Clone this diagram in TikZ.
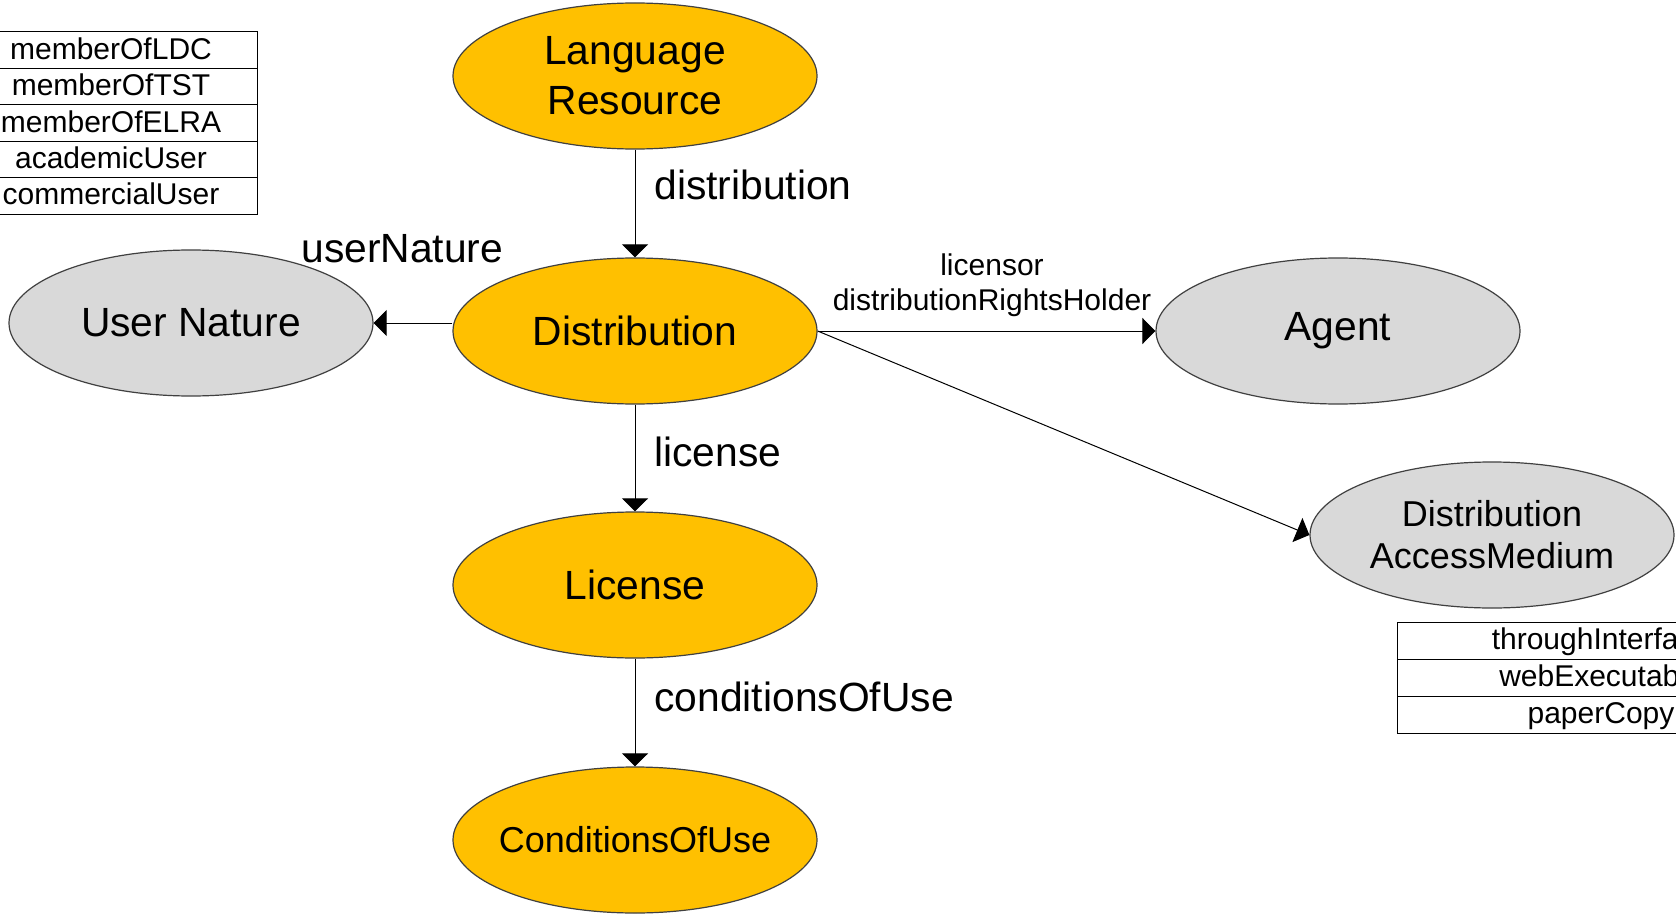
\documentclass[tikz,border=0pt]{standalone}
\usepackage{fontspec}
\setmainfont{Liberation Sans}
\usetikzlibrary{arrows.meta,shapes.geometric}
\definecolor{gold}{HTML}{FFC000}
\definecolor{lgray}{HTML}{D9D9D9}
\begin{document}
\begin{tikzpicture}[x=0.5pt,y=-0.5pt,
  ell/.style={ellipse,draw=black!75,line width=0.6pt,minimum width=182pt,minimum height=73pt,inner sep=0pt,align=center},
  gold node/.style={ell,fill=gold},
  gray node/.style={ell,fill=lgray},
  big/.style={font=\fontsize{20.4pt}{25pt}\selectfont},
  mid/.style={font=\fontsize{18pt}{21pt}\selectfont},
  small/.style={font=\fontsize{15pt}{17.5pt}\selectfont},
  lbl/.style={big,inner sep=0pt,anchor=base west},
  arr/.style={line width=0.5pt,-{Triangle[length=6.5pt,width=13pt]}},
  lrow/.style={draw,line width=0.5pt,small,minimum width=146pt,minimum height=18.2pt,inner sep=0pt,text height=11.4pt,text depth=2.2pt},
  rrow/.style={draw,line width=0.5pt,small,minimum width=204pt,minimum height=18.5pt,inner sep=0pt,text height=11.4pt,text depth=2.2pt}
]
\clip (0,0) rectangle (1676,915);
\fill[white] (0,0) rectangle (1676,915);

% nodes
\node[gold node,big] (lr) at (635,76) {Language\\Resource};
\node[gold node,big] (dist) at (635,331) {Distribution};
\node[gold node,big] (lic) at (635,585) {License};
\node[gold node,mid] (cou) at (635,840) {\makebox[60pt]{ConditionsOfUse}};
\node[gray node,big] (un) at (191,323) {User Nature};
\node[gray node,big] (agent) at (1338,331) {Agent};
\node[gray node,mid] (dam) at (1492,535) {Distribution\\AccessMedium};

% connectors
\draw[arr] (lr.south) -- (dist.north);
\draw[arr] (dist.south) -- (lic.north);
\draw[arr] (lic.south) -- (cou.north);
\draw[arr] (dist.west |- un.east) -- (un.east);
\draw[arr] (dist.east) -- (agent.west);
\draw[arr] (dist.east) -- (dam.west);

% edge labels
\node[lbl] (ldist) at (654,199) {distribution};
\node[lbl] (lun) at (301,262) {userNature};
\node[lbl] (llic) at (654,466) {license};
\node[lbl] (lcou) at (654,711) {conditionsOfUse};
\node[small,inner sep=0pt,align=center] (lagent) at (992,285) {licensor\\distributionRightsHolder};

% left table
\node[lrow] (t1) at (111,50.2) {memberOfLDC};
\node[lrow] (t2) at (111,86.6) {memberOfTST};
\node[lrow] (t3) at (111,123.0) {memberOfELRA};
\node[lrow] (t4) at (111,159.4) {academicUser};
\node[lrow] (t5) at (111,195.8) {commercialUser};

% right table
\node[rrow] (r1) at (1601,640.5) {throughInterface};
\node[rrow] (r2) at (1601,677.5) {webExecutable};
\node[rrow] (r3) at (1601,714.5) {paperCopy};
\end{tikzpicture}
\end{document}
